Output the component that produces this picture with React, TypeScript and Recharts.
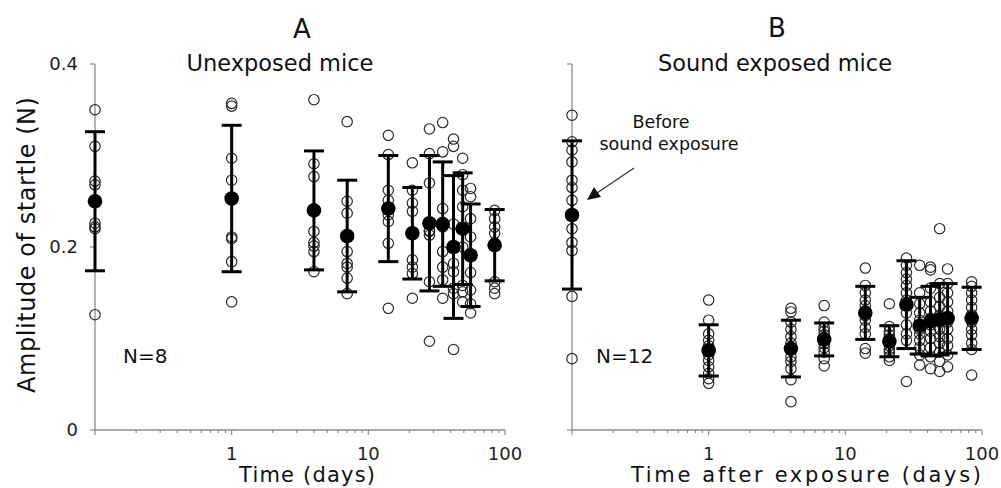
import React from "react";
import { ScatterChart, Scatter, XAxis, YAxis, ErrorBar } from "recharts";

// ---- data ----
const times = [0.1, 1, 4, 7, 14, 21, 28, 35, 42, 49, 56, 84];

const unexposedMean = [0.25, 0.253, 0.24, 0.212, 0.242, 0.215, 0.226, 0.225, 0.2, 0.22, 0.191, 0.202];
const unexposedSD = [0.076, 0.08, 0.065, 0.061, 0.058, 0.05, 0.074, 0.068, 0.078, 0.061, 0.056, 0.039];
const unexposedIndividuals = [
  [0.35, 0.31, 0.272, 0.268, 0.226, 0.222, 0.22, 0.126],
  [0.357, 0.354, 0.297, 0.273, 0.211, 0.209, 0.184, 0.14],
  [0.361, 0.291, 0.277, 0.217, 0.205, 0.201, 0.195, 0.173],
  [0.337, 0.25, 0.237, 0.195, 0.182, 0.178, 0.166, 0.149],
  [0.322, 0.301, 0.262, 0.251, 0.235, 0.228, 0.204, 0.133],
  [0.292, 0.262, 0.248, 0.239, 0.186, 0.178, 0.171, 0.144],
  [0.329, 0.302, 0.27, 0.218, 0.217, 0.213, 0.162, 0.097],
  [0.336, 0.304, 0.242, 0.222, 0.195, 0.178, 0.164, 0.144],
  [0.318, 0.31, 0.225, 0.182, 0.173, 0.155, 0.149, 0.088],
  [0.297, 0.279, 0.262, 0.244, 0.2, 0.158, 0.151, 0.14],
  [0.264, 0.255, 0.231, 0.211, 0.172, 0.153, 0.138, 0.128],
  [0.24, 0.231, 0.222, 0.215, 0.204, 0.162, 0.155, 0.149],
];

const exposedMean = [0.235, 0.087, 0.089, 0.099, 0.128, 0.097, 0.137, 0.114, 0.119, 0.121, 0.122, 0.122];
const exposedSD = [0.081, 0.028, 0.031, 0.018, 0.029, 0.017, 0.048, 0.031, 0.038, 0.039, 0.038, 0.034];
const exposedIndividuals = [
  [0.344, 0.315, 0.306, 0.293, 0.273, 0.265, 0.251, 0.22, 0.205, 0.196, 0.146, 0.078],
  [0.142, 0.12, 0.105, 0.098, 0.092, 0.088, 0.082, 0.076, 0.069, 0.062, 0.056, 0.051],
  [0.133, 0.129, 0.118, 0.11, 0.102, 0.095, 0.088, 0.08, 0.075, 0.067, 0.055, 0.031],
  [0.136, 0.118, 0.112, 0.108, 0.104, 0.1, 0.097, 0.094, 0.09, 0.085, 0.078, 0.07],
  [0.177, 0.158, 0.15, 0.142, 0.136, 0.13, 0.125, 0.12, 0.112, 0.105, 0.089, 0.084],
  [0.138, 0.113, 0.108, 0.104, 0.1, 0.097, 0.095, 0.092, 0.088, 0.085, 0.08, 0.076],
  [0.188, 0.18, 0.172, 0.165, 0.158, 0.15, 0.142, 0.128, 0.115, 0.105, 0.098, 0.053],
  [0.18, 0.15, 0.138, 0.128, 0.12, 0.115, 0.11, 0.105, 0.098, 0.09, 0.082, 0.071],
  [0.178, 0.175, 0.155, 0.14, 0.13, 0.122, 0.115, 0.108, 0.1, 0.09, 0.08, 0.067],
  [0.22, 0.16, 0.145, 0.135, 0.125, 0.118, 0.11, 0.102, 0.095, 0.085, 0.075, 0.064],
  [0.176, 0.16, 0.15, 0.14, 0.13, 0.124, 0.118, 0.11, 0.1, 0.092, 0.082, 0.069],
  [0.162, 0.157, 0.15, 0.142, 0.134, 0.126, 0.118, 0.11, 0.104, 0.095, 0.088, 0.06],
];

const xTickValues = [
  0.1, 0.2, 0.3, 0.4, 0.5, 0.6, 0.7, 0.8, 0.9,
  1, 2, 3, 4, 5, 6, 7, 8, 9,
  10, 20, 30, 40, 50, 60, 70, 80, 90, 100,
];
const xMajorTicks = [0.1, 1, 10, 100];
const xTickLabels = ["", "1", "10", "100"];
const yTickValues = [0, 0.2, 0.4];
const yTickLabels = ["0", "0.2", "0.4"];

// ---- helpers ----
const FONT = "DejaVu Sans";
const AXIS_GRAY = "#8c8c8c";

const buildPoints = (ind: number[][]) =>
  ind.flatMap((vals, i) => vals.map((v) => ({ x: times[i], y: v })));
const buildMeans = (m: number[], sd: number[]) =>
  m.map((v, i) => ({ x: times[i], y: v, err: sd[i] }));

const XTick = (props: any) => {
  const { x, y, payload } = props;
  const v = payload.value;
  const mi = xMajorTicks.indexOf(v);
  const major = mi >= 0;
  const label = major ? xTickLabels[mi] : "";
  return (
    <g>
      <line x1={x} x2={x} y1={y} y2={y + (major ? 5 : 3)} stroke={AXIS_GRAY} strokeWidth={1.2} />
      {label ? (
        <text x={x} y={y + 30} textAnchor="middle" fontSize={18} fontFamily={FONT} fill="#222">
          {label}
        </text>
      ) : null}
    </g>
  );
};

const OpenCircle = (props: any) => {
  const { cx, cy } = props;
  if (cx == null || cy == null) return <g />;
  return <circle cx={cx} cy={cy} r={5.2} fill="none" stroke="#2a2a2a" strokeWidth={1.2} />;
};

const FilledCircle = (props: any) => {
  const { cx, cy } = props;
  if (cx == null || cy == null) return <g />;
  return <circle cx={cx} cy={cy} r={7.3} fill="#000" />;
};

const Y_AXIS_W = 60;

const Panel = ({ points, means, showYLabels, left, width, plotLeft, plotRight }: any) => (
  <div style={{ position: "absolute", left, top: 0 }}>
    <ScatterChart
      width={width}
      height={488}
      margin={{ top: 64, right: width - plotRight, bottom: 28, left: plotLeft - Y_AXIS_W }}
    >
      <XAxis
        type="number"
        dataKey="x"
        scale="log"
        domain={[0.1, 100]}
        ticks={xTickValues}
        interval={0}
        tick={<XTick />}
        tickLine={false}
        tickSize={0}
        tickMargin={0}
        height={30}
        axisLine={{ stroke: AXIS_GRAY, strokeWidth: 1.3 }}
        zIndex={0}
      />
      <YAxis
        type="number"
        dataKey="y"
        domain={[0, 0.4]}
        ticks={yTickValues}
        interval={0}
        width={Y_AXIS_W}
        tickSize={5}
        tickMargin={12}
        tickFormatter={(v: number) => (showYLabels ? yTickLabels[yTickValues.indexOf(v)] : "")}
        tick={{ fontSize: 18, fontFamily: FONT, fill: "#222" }}
        tickLine={{ stroke: AXIS_GRAY, strokeWidth: 1.2 }}
        axisLine={{ stroke: AXIS_GRAY, strokeWidth: 1.3 }}
        zIndex={0}
      />
      <Scatter data={points} shape={<OpenCircle />} isAnimationActive={false} zIndex={900} />
      <Scatter data={means} shape={<FilledCircle />} isAnimationActive={false} zIndex={1100}>
        <ErrorBar dataKey="err" direction="y" width={10} stroke="#000" strokeWidth={3} zIndex={1000} />
      </Scatter>
    </ScatterChart>
  </div>
);

export default function App() {
  const leftPoints = buildPoints(unexposedIndividuals);
  const rightPoints = buildPoints(exposedIndividuals);
  const leftMeans = buildMeans(unexposedMean, unexposedSD);
  const rightMeans = buildMeans(exposedMean, exposedSD);
  return (
    <div
      style={{
        position: "absolute",
        left: 0,
        top: 0,
        width: 1001,
        height: 488,
        background: "#fff",
        overflow: "hidden",
      }}
    >
      <Panel points={leftPoints} means={leftMeans} showYLabels left={0} width={545} plotLeft={95} plotRight={505} />
      <Panel points={rightPoints} means={rightMeans} showYLabels={false} left={480} width={521} plotLeft={92} plotRight={502} />
      <svg
        width={1001}
        height={488}
        style={{ position: "absolute", left: 0, top: 0, pointerEvents: "none" }}
        fontFamily={FONT}
        fill="#111"
      >
        <text x={302} y={38} fontSize={26} textAnchor="middle">A</text>
        <text x={280} y={71} fontSize={22.5} textAnchor="middle">Unexposed mice</text>
        <text x={777} y={37} fontSize={26} textAnchor="middle">B</text>
        <text x={775} y={71} fontSize={22.5} textAnchor="middle">Sound exposed mice</text>
        <text
          x={35}
          y={245}
          fontSize={24}
          textAnchor="middle"
          textLength={296}
          transform="rotate(-90 35 245)"
        >
          Amplitude of startle (N)
        </text>
        <text x={307} y={482} fontSize={21} textAnchor="middle" textLength={136}>Time (days)</text>
        <text x={806} y={482} fontSize={21} textAnchor="middle" textLength={350}>Time after exposure (days)</text>
        <text x={123} y={363} fontSize={20}>N=8</text>
        <text x={596} y={363} fontSize={20}>N=12</text>
        <text x={661} y={128} fontSize={17.5} textAnchor="middle">Before</text>
        <text x={669} y={150} fontSize={17.5} textAnchor="middle">sound exposure</text>
        <line x1={634} y1={168} x2={597} y2={193} stroke="#333" strokeWidth={1.2} />
        <polygon points="587,200 594,187 601,197" fill="#111" />
      </svg>
    </div>
  );
}
